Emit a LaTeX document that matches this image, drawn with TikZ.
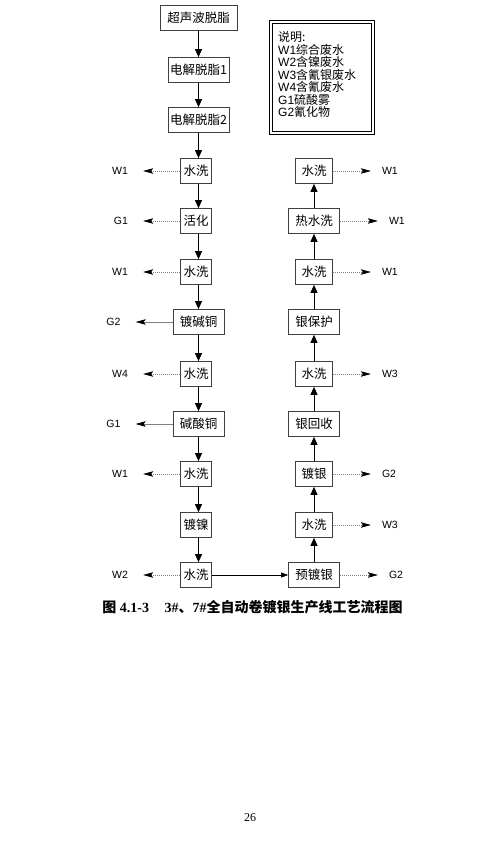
\documentclass[tikz,border=0pt]{standalone}
\usepackage{fontspec}
\setmainfont{Liberation Serif}
\newfontfamily\cjk{Noto Sans CJK SC}
\newfontfamily\ar{Liberation Sans}
\usetikzlibrary{arrows.meta,positioning}
\begin{document}
\begin{tikzpicture}[x=1pt,y=-1pt,
  box/.style={draw=black!75, line width=0.7pt, minimum height=25pt, inner sep=0pt,
    font=\cjk\fontsize{12.5}{12.5}\selectfont},
  flow/.style={-{Triangle[length=8pt,width=7pt]}, line width=0.9pt},
  thinflow/.style={-{Triangle[length=7pt,width=5pt]}, line width=0.6pt},
  emit/.style={-{Stealth[length=10pt,width=5.5pt,inset=2pt,color=black]},
    draw=black!50, dash pattern=on 1.2pt off 0.8pt, line width=0.7pt},
  lbl/.style={font=\ar\fontsize{10.5}{10.5}\selectfont, inner sep=0pt},
  leg/.style={font=\cjk\fontsize{12}{12}\selectfont, inner sep=0pt, anchor=west}]
\useasboundingbox (0,0) rectangle (489,842);

% left column
\node[box, minimum width=77pt] (n1) at (198.5,18) {超声波脱脂};
\node[box, minimum width=61pt] (n2) at (198.5,70) {电解脱脂1};
\node[box, minimum width=61pt] (n3) at (198.5,120) {电解脱脂2};
\node[box, minimum width=31pt] (L1) at (196,171) {水洗};
\node[box, minimum width=31pt] (L2) at (196,221) {活化};
\node[box, minimum width=31pt] (L3) at (196,272) {水洗};
\node[box, minimum width=51pt] (L4) at (198.5,322) {镀碱铜};
\node[box, minimum width=31pt] (L5) at (196,374) {水洗};
\node[box, minimum width=51pt] (L6) at (198.5,424) {碱酸铜};
\node[box, minimum width=31pt] (L7) at (196,474) {水洗};
\node[box, minimum width=31pt] (L8) at (196,525) {镀镍};
\node[box, minimum width=31pt] (L9) at (196,575) {水洗};

% right column
\node[box, minimum width=51pt] (R1) at (314,575) {预镀银};
\node[box, minimum width=37pt] (R2) at (314,525) {水洗};
\node[box, minimum width=37pt] (R3) at (314,474) {镀银};
\node[box, minimum width=51pt] (R4) at (314,424) {银回收};
\node[box, minimum width=37pt] (R5) at (314,374) {水洗};
\node[box, minimum width=51pt] (R6) at (314,322) {银保护};
\node[box, minimum width=37pt] (R7) at (314,272) {水洗};
\node[box, minimum width=51pt] (R8) at (314,221) {热水洗};
\node[box, minimum width=37pt] (R9) at (314,171) {水洗};

% main flow
\draw[flow] (n1) -- (n2);
\draw[flow] (n2) -- (n3);
\draw[flow] (n3.south) -- (n3.south |- L1.north);
\draw[flow] (n3.south |- L1.south) -- (n3.south |- L2.north);
\draw[flow] (n3.south |- L2.south) -- (n3.south |- L3.north);
\draw[flow] (n3.south |- L3.south) -- (L4.north);
\draw[flow] (L4.south) -- (L4.south |- L5.north);
\draw[flow] (L4.south |- L5.south) -- (L6.north);
\draw[flow] (L6.south) -- (L6.south |- L7.north);
\draw[flow] (L6.south |- L7.south) -- (L6.south |- L8.north);
\draw[flow] (L6.south |- L8.south) -- (L6.south |- L9.north);
\draw[thinflow] (L9) -- (R1);
\draw[flow] (R1) -- (R2);
\draw[flow] (R2) -- (R3);
\draw[flow] (R3) -- (R4);
\draw[flow] (R4) -- (R5);
\draw[flow] (R5) -- (R6);
\draw[flow] (R6) -- (R7);
\draw[flow] (R7) -- (R8);
\draw[flow] (R8) -- (R9);

% left emissions
\node[lbl, left=52pt of L1] (e1) {W1};
\node[lbl, left=52pt of L2] (e2) {G1};
\node[lbl, left=52pt of L3] (e3) {W1};
\node[lbl, left=52pt of L4] (e4) {G2};
\node[lbl, left=52pt of L5] (e5) {W4};
\node[lbl, left=52pt of L6] (e6) {G1};
\node[lbl, left=52pt of L7] (e7) {W1};
\node[lbl, left=52pt of L9] (e9) {W2};
\foreach \b/\e in {L1/e1,L2/e2,L3/e3,L4/e4,L5/e5,L6/e6,L7/e7,L9/e9}
  \draw[emit, shorten >=15pt] (\b) -- (\e);

% right emissions
\node[lbl, right=49pt of R9] (f9) {W1};
\node[lbl, right=49pt of R8] (f8) {W1};
\node[lbl, right=49pt of R7] (f7) {W1};
\node[lbl, right=49pt of R5] (f5) {W3};
\node[lbl, right=49pt of R3] (f3) {G2};
\node[lbl, right=49pt of R2] (f2) {W3};
\node[lbl, right=49pt of R1] (f1) {G2};
\foreach \b/\e in {R9/f9,R8/f8,R7/f7,R5/f5,R3/f3,R2/f2,R1/f1}
  \draw[emit, shorten >=11pt] (\b) -- (\e);

% legend
\draw[line width=0.9pt] (269,20) rectangle (374,134);
\draw[line width=0.6pt] (272,23) rectangle (371,131);
\node[leg] (g0) at (278,37) {说明:};
\node[leg] (g1) at (278,49.5) {{\ar W1}综合废水};
\node[leg] (g2) at (278,62) {{\ar W2}含镍废水};
\node[leg] (g3) at (278,74.5) {{\ar W3}含氰银废水};
\node[leg] (g4) at (278,87) {{\ar W4}含氰废水};
\node[leg] (g5) at (278,99.5) {{\ar G1}硫酸雾};
\node[leg] (g6) at (278,112) {{\ar G2}氰化物};

% caption
\node[inner sep=0pt, font=\fontsize{14}{14}\selectfont\bfseries] (cap) at (252.5,607)
  {{\cjk\bfseries 图} 4.1-3\hspace{1.1em}3\#{\cjk\bfseries 、}7\#{\cjk\bfseries 全自动卷镀银生产线工艺流程图}};

% page number
\node[inner sep=0pt, font=\fontsize{12}{12}\selectfont] (pg) at (250,818) {26};
\end{tikzpicture}
\end{document}
